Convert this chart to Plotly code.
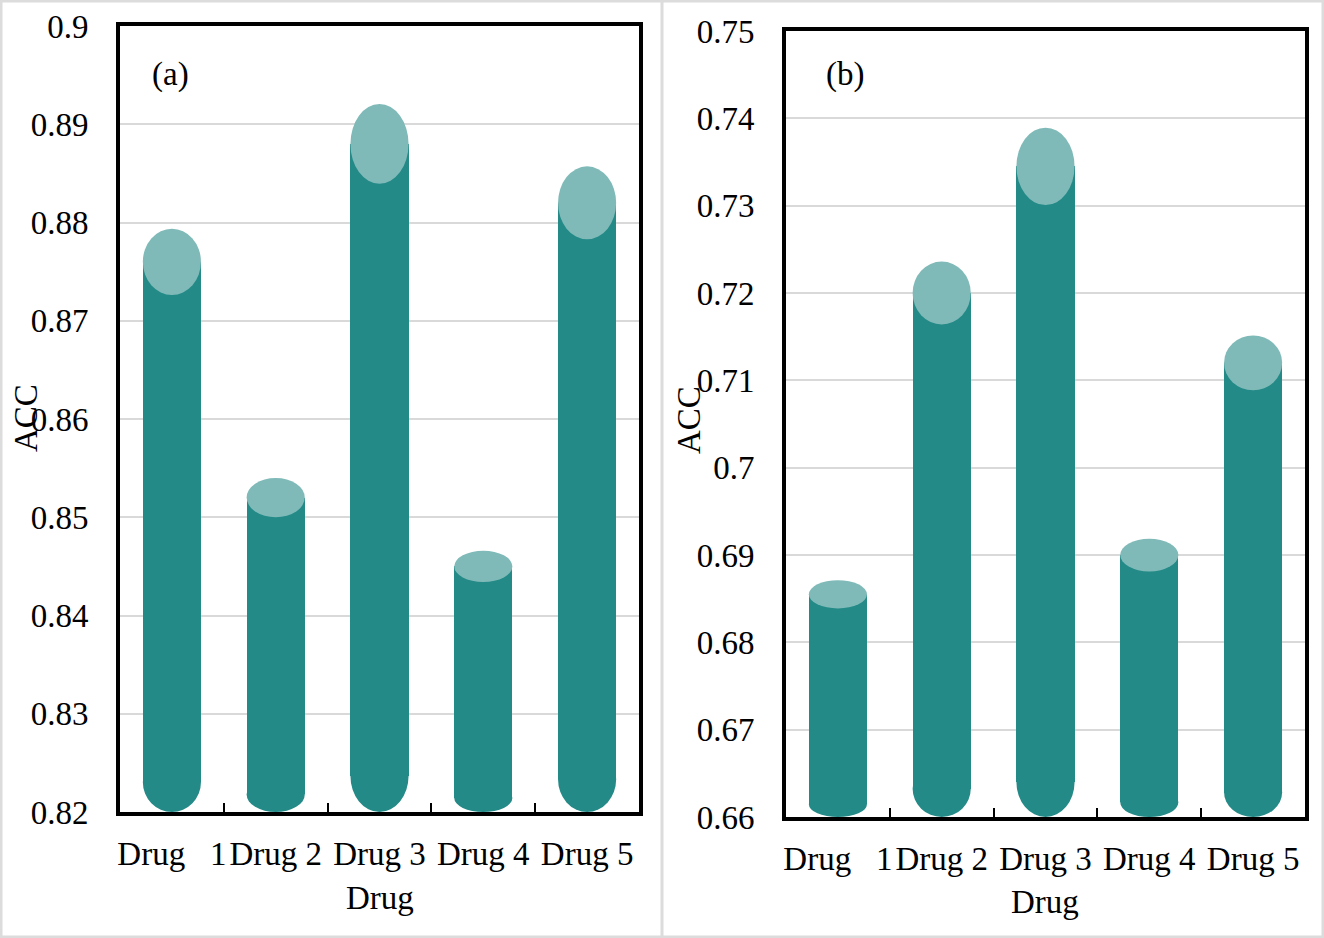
import plotly.graph_objects as go

# data
drugs = ["Drug 1", "Drug 2", "Drug 3", "Drug 4", "Drug 5"]
drug_labels = ["Drug\u00a0\u00a0\u00a01", "Drug 2", "Drug 3", "Drug 4", "Drug 5"]
acc_a = [0.876, 0.852, 0.888, 0.845, 0.882]
acc_b = [0.6855, 0.720, 0.7345, 0.690, 0.712]

body_col = "#238A87"
top_col = "#7FBAB8"
font = "Liberation Serif"
bar_w = 0.56

fig = go.Figure()
shapes = []


def cylinders(vals, xa, ya, ymin, step):
    # body as bars, rounded bottom + lit top as ellipse shapes
    hs = [0.115 * (v - ymin) + 0.03 * step for v in vals]
    bases = [ymin + 0.45 * h for h in hs]
    fig.add_trace(go.Bar(x=drugs, y=[v - b for v, b in zip(vals, bases)], base=bases,
                         width=bar_w, marker=dict(color=body_col, line_width=0),
                         xaxis=xa, yaxis=ya, showlegend=False, hoverinfo="skip"))
    for i, (v, h) in enumerate(zip(vals, hs)):
        shapes.append(dict(type="circle", xref=xa, yref=ya, layer="between",
                           x0=i - bar_w / 2, x1=i + bar_w / 2, y0=ymin, y1=ymin + 0.9 * h,
                           fillcolor=body_col, line_width=0))
        shapes.append(dict(type="circle", xref=xa, yref=ya, layer="above",
                           x0=i - bar_w / 2, x1=i + bar_w / 2, y0=v - h / 2, y1=v + h / 2,
                           fillcolor=top_col, line_width=0))


cylinders(acc_a, "x", "y", 0.82, 0.01)
cylinders(acc_b, "x2", "y2", 0.66, 0.01)

xax = dict(type="category", showline=True, linecolor="black", linewidth=4, mirror=True,
           ticks="inside", tickson="boundaries", ticklen=9, tickwidth=2, tickcolor="black",
           tickvals=drugs, ticktext=drug_labels, ticklabelstandoff=9, tickangle=0,
           tickfont=dict(family=font, size=33, color="black"), showgrid=False,
           range=[-0.5, 4.5], automargin=False)
yax = dict(showline=True, linecolor="black", linewidth=4, mirror=True, ticks="",
           showgrid=True, gridcolor="#d9d9d9", gridwidth=2, dtick=0.01,
           tickfont=dict(family=font, size=33, color="black"), ticklabelstandoff=21,
           zeroline=False, automargin=False)

H = 938.0
W = 1324.0
fig.update_layout(
    template="none",
    width=1324, height=938, margin=dict(l=0, r=0, t=0, b=0, pad=0),
    plot_bgcolor="white", paper_bgcolor="white", bargap=0,
    xaxis=dict(xax, domain=[120 / W, 639 / W], anchor="y"),
    yaxis=dict(yax, domain=[(H - 812) / H, (H - 26) / H], range=[0.82, 0.9], anchor="x",
               tickvals=[0.82, 0.83, 0.84, 0.85, 0.86, 0.87, 0.88, 0.89, 0.9],
               ticktext=["0.82", "0.83", "0.84", "0.85", "0.86", "0.87", "0.88", "0.89", "0.9"]),
    xaxis2=dict(xax, domain=[786 / W, 1305 / W], anchor="y2"),
    yaxis2=dict(yax, domain=[(H - 817) / H, (H - 31) / H], range=[0.66, 0.75], anchor="x2",
                tickvals=[0.66, 0.67, 0.68, 0.69, 0.7, 0.71, 0.72, 0.73, 0.74, 0.75],
                ticktext=["0.66", "0.67", "0.68", "0.69", "0.7", "0.71", "0.72", "0.73", "0.74", "0.75"]),
)

# outer frame and divider
shapes.append(dict(type="rect", xref="paper", yref="paper", x0=0, x1=1, y0=0, y1=1,
                   line=dict(color="#dcdcdc", width=5), layer="below"))
shapes.append(dict(type="line", xref="paper", yref="paper", x0=662 / W, x1=662 / W, y0=0, y1=1,
                   line=dict(color="#dcdcdc", width=3), layer="below"))
fig.update_layout(shapes=shapes)

txt = dict(family=font, size=33, color="black")
notes = [
    dict(text="(a)", x=170 / W, y=(H - 75) / H),
    dict(text="(b)", x=845 / W, y=(H - 75) / H),
    dict(text="Drug", x=380 / W, y=(H - 898) / H),
    dict(text="Drug", x=1045 / W, y=(H - 902) / H),
    dict(text="ACC", x=26 / W, y=(H - 418) / H, textangle=-90),
    dict(text="ACC", x=689 / W, y=(H - 420) / H, textangle=-90),
]
for n in notes:
    fig.add_annotation(xref="paper", yref="paper", showarrow=False, font=txt,
                       xanchor="center", yanchor="middle", **n)

fig.write_html("out.html", config={"displayModeBar": False},
               post_script="document.body.style.margin='0';")
